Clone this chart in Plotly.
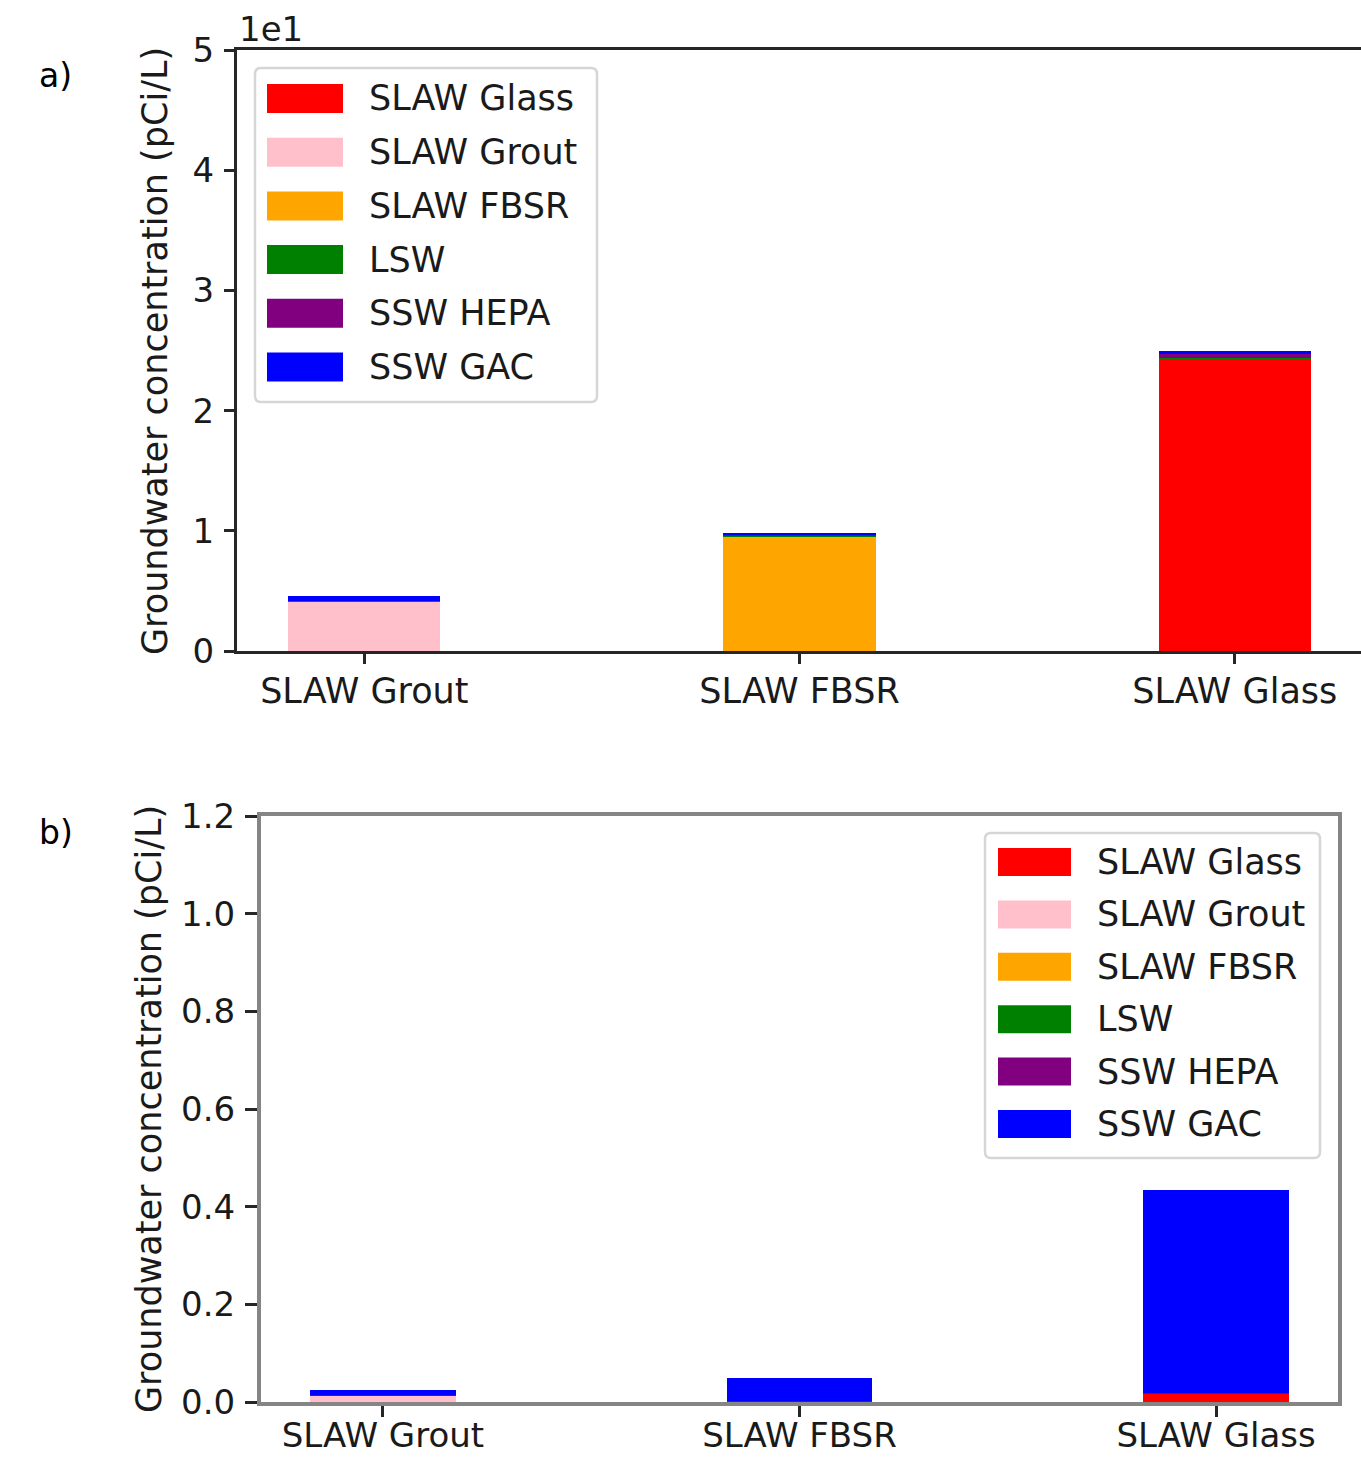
import plotly.graph_objects as go

categories = ["SLAW Grout", "SLAW FBSR", "SLAW Glass"]
series_names = ["SLAW Glass", "SLAW Grout", "SLAW FBSR", "LSW", "SSW HEPA", "SSW GAC"]
series_colors = ["#FF0000", "#FFC0CB", "#FFA500", "#008000", "#800080", "#0000FF"]

# Panel a values (pCi/L)
a_slaw_glass = [0.0, 0.0, 24.3]
a_slaw_grout = [4.15, 0.0, 0.0]
a_slaw_fbsr = [0.0, 9.55, 0.0]
a_lsw = [0.02, 0.03, 0.05]
a_ssw_hepa = [0.03, 0.12, 0.33]
a_ssw_gac = [0.35, 0.12, 0.25]

# Panel b values (pCi/L)
b_slaw_glass = [0.0, 0.0, 0.018]
b_slaw_grout = [0.014, 0.0, 0.0]
b_slaw_fbsr = [0.0, 0.001, 0.0]
b_lsw = [0.0, 0.0, 0.0]
b_ssw_hepa = [0.0005, 0.0005, 0.001]
b_ssw_gac = [0.010, 0.047, 0.415]

a_ticks = [0, 10, 20, 30, 40, 50]
a_ticktext = ["0", "1", "2", "3", "4", "5"]
b_ticks = [0.0, 0.2, 0.4, 0.6, 0.8, 1.0, 1.2]
b_ticktext = ["0.0", "0.2", "0.4", "0.6", "0.8", "1.0", "1.2"]

y_title = "Groundwater concentration (pCi/L)"

panel_a = [a_slaw_glass, a_slaw_grout, a_slaw_fbsr, a_lsw, a_ssw_hepa, a_ssw_gac]
panel_b = [b_slaw_glass, b_slaw_grout, b_slaw_fbsr, b_lsw, b_ssw_hepa, b_ssw_gac]

W, H = 1361, 1458
FONT = "DejaVu Sans"
TXT = "#1a1a1a"
FS = 35

fig = go.Figure()
xidx = [0, 1, 2]
for vals, name, col in zip(panel_a, series_names, series_colors):
    fig.add_trace(go.Bar(x=xidx, y=vals, name=name, marker=dict(color=col, line=dict(width=0)),
                         width=0.35, xaxis="x", yaxis="y", showlegend=False))
for vals, name, col in zip(panel_b, series_names, series_colors):
    fig.add_trace(go.Bar(x=xidx, y=vals, name=name, marker=dict(color=col, line=dict(width=0)),
                         width=0.35, xaxis="x2", yaxis="y2", showlegend=False))

def px(x):
    return x / W

def py(y):
    return 1 - y / H

axis_font = dict(family=FONT, size=FS, color=TXT)
xb_font = dict(family=FONT, size=34, color=TXT)
ytick_font = dict(family=FONT, size=34, color=TXT)

fig.update_layout(
    template="none",
    width=W, height=H, barmode="stack", showlegend=False,
    margin=dict(l=0, r=0, t=0, b=0, pad=0),
    paper_bgcolor="white", plot_bgcolor="white",
    font=dict(family=FONT, color=TXT, size=FS),
    xaxis=dict(domain=[px(237), 1.0], range=[-0.2925, 2.29], tickvals=xidx, ticktext=categories,
               showline=True, linecolor="#262626", linewidth=3, mirror=True, ticks="outside",
               ticklen=10, tickwidth=3, tickcolor="#262626", tickfont=axis_font, showgrid=False,
               zeroline=False, anchor="y", automargin=False, ticklabelstandoff=-3, fixedrange=True),
    yaxis=dict(domain=[py(651), py(50)], range=[0, 50], tickvals=a_ticks, ticktext=a_ticktext,
               showline=True, linecolor="#262626", linewidth=3, mirror=False, ticks="outside",
               ticklen=10, tickwidth=3, tickcolor="#262626", tickfont=ytick_font, showgrid=False,
               zeroline=False, anchor="x", automargin=False, ticklabelstandoff=3, fixedrange=True),
    xaxis2=dict(domain=[px(261), px(1338)], range=[-0.2925, 2.2925], tickvals=xidx, ticktext=categories,
                showline=True, linecolor="#858585", linewidth=4, mirror=True, ticks="outside",
                ticklen=11, tickwidth=3, tickcolor="#262626", tickfont=xb_font, showgrid=False,
                zeroline=False, anchor="y2", automargin=False, ticklabelstandoff=-11, fixedrange=True),
    yaxis2=dict(domain=[py(1402), py(816)], range=[0, 1.2], tickvals=b_ticks, ticktext=b_ticktext,
                showline=True, linecolor="#858585", linewidth=4, mirror=True, ticks="outside",
                ticklen=12, tickwidth=3, tickcolor="#262626", tickfont=ytick_font, showgrid=False,
                zeroline=False, anchor="x2", automargin=False, ticklabelstandoff=3, fixedrange=True),
)

shapes = []
annotations = []

def rounded_rect_path(x0, y0, x1, y1, r):
    def P(x, y):
        return f"{px(x):.5f},{py(y):.5f}"
    return (f"M {P(x0 + r, y0)} L {P(x1 - r, y0)} Q {P(x1, y0)} {P(x1, y0 + r)} "
            f"L {P(x1, y1 - r)} Q {P(x1, y1)} {P(x1 - r, y1)} L {P(x0 + r, y1)} "
            f"Q {P(x0, y1)} {P(x0, y1 - r)} L {P(x0, y0 + r)} Q {P(x0, y0)} {P(x0 + r, y0)} Z")

def add_legend(box, patch_x0, patch_x1, text_x, row_y0, row_dy, patch_h):
    x0, y0, x1, y1 = box
    shapes.append(dict(type="path", xref="paper", yref="paper", path=rounded_rect_path(x0, y0, x1, y1, 6),
                       line=dict(color="#d6d6d6", width=2.5), fillcolor="rgba(255,255,255,0.8)", layer="above"))
    for i, (name, col) in enumerate(zip(series_names, series_colors)):
        cy = row_y0 + i * row_dy
        shapes.append(dict(type="rect", xref="paper", yref="paper", x0=px(patch_x0), x1=px(patch_x1),
                           y0=py(cy + patch_h / 2), y1=py(cy - patch_h / 2), line=dict(width=0),
                           fillcolor=col, layer="above"))
        annotations.append(dict(xref="paper", yref="paper", x=px(text_x), y=py(cy), text=name,
                                showarrow=False, xanchor="left", yanchor="middle",
                                font=dict(family=FONT, size=FS, color=TXT)))

add_legend((255, 68, 597, 402), 267, 343, 367, 98.5, 53.7, 29)
add_legend((985, 833, 1320, 1158), 998, 1071, 1095, 862, 52.4, 28)

annotations.append(dict(xref="paper", yref="paper", x=px(155), y=py(351), text=y_title, textangle=-90,
                        showarrow=False, xanchor="center", yanchor="middle",
                        font=dict(family=FONT, size=FS, color=TXT)))
annotations.append(dict(xref="paper", yref="paper", x=px(149), y=py(1109), text=y_title, textangle=-90,
                        showarrow=False, xanchor="center", yanchor="middle",
                        font=dict(family=FONT, size=FS, color=TXT)))
annotations.append(dict(xref="paper", yref="paper", x=px(237), y=py(29), text="1e1", showarrow=False,
                        xanchor="left", yanchor="middle", font=dict(family=FONT, size=34, color=TXT)))
annotations.append(dict(xref="paper", yref="paper", x=px(37), y=py(75), text="a)", showarrow=False,
                        xanchor="left", yanchor="middle", font=dict(family=FONT, size=33, color="#000")))
annotations.append(dict(xref="paper", yref="paper", x=px(37), y=py(832), text="b)", showarrow=False,
                        xanchor="left", yanchor="middle", font=dict(family=FONT, size=33, color="#000")))

fig.update_layout(shapes=shapes, annotations=annotations)
fig.write_html("out.html", config={"displayModeBar": False},
               post_script="document.body.style.margin='0';document.body.style.overflow='hidden';")
